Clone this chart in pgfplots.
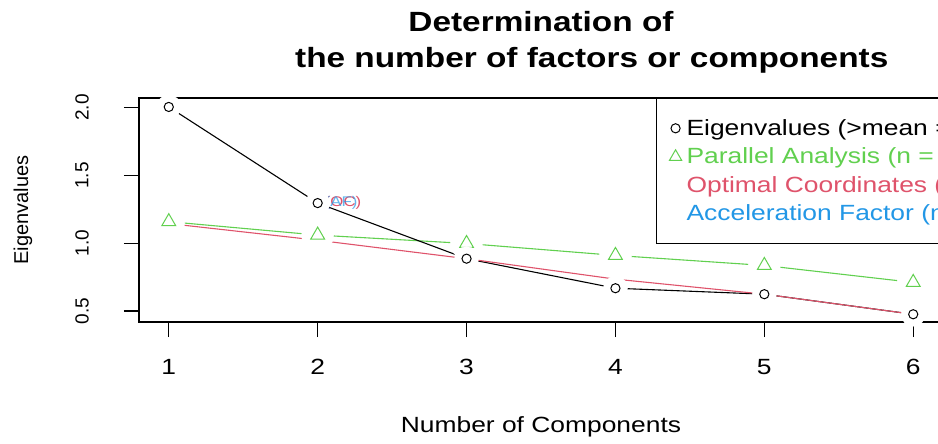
\documentclass[border=0pt]{standalone}
\usepackage{pgfplots}
\pgfplotsset{compat=1.18}
\usepackage{fontspec}
\setmainfont{Liberation Sans}[FakeStretch=1.2]
\newfontfamily\rotfont{Liberation Sans}
\definecolor{rgreen}{HTML}{61D04F}
\definecolor{rred}{HTML}{DF536B}
\definecolor{rblue}{HTML}{2297E6}
\pgfplotstableread{
x y
1 2.005
2 1.296
3 0.886
4 0.668
5 0.624
6 0.476
}\eigen
\pgfplotstableread{
x y
1 1.159
2 1.060
3 0.998
4 0.910
5 0.836
6 0.711
}\parallel
\pgfplotstableread{
x y
1 1.145
2 1.022
3 0.886
4 0.735
5 0.624
6 0.476
}\optimal
\begin{document}
\begin{tikzpicture}[x=1pt,y=1pt]
\useasboundingbox (0,0) rectangle (938,444);
\clip (0,0) rectangle (938,444);
\begin{axis}[
  at={(139pt,122pt)}, anchor=south west,
  scale only axis, width=804pt, height=224pt,
  xmin=0.8, xmax=6.2, ymin=0.419, ymax=2.071,
  xtick={1,2,3,4,5,6}, ytick={0.5,1,1.5,2},
  yticklabels={0.5,1.0,1.5,2.0},
  tick pos=left, tick align=outside,
  major tick length=15pt,
  axis line style={line width=1.2pt},
  every tick/.style={black, line width=1.2pt},
  axis on top,
  /pgf/number format/assume math mode=true,
  xticklabel style={anchor=center, yshift=-30pt, font=\fontsize{22}{24}\selectfont},
  yticklabel style={rotate=90, anchor=center, yshift=42pt, font=\rotfont\fontsize{19}{21}\selectfont},
  xlabel={Number of Components},
  xlabel style={at={(axis description cs:0.5,-0.469)}, anchor=center, font=\fontsize{22}{24}\selectfont},
  ylabel={Eigenvalues},
  ylabel style={at={(axis description cs:-0.1443,0.5)}, anchor=center, rotate=0, font=\rotfont\fontsize{20}{22}\selectfont},
  legend style={at={(rel axis cs:0.643,1)}, anchor=north west, draw=black, line width=1.2pt,
    font=\fontsize{22}{26}\selectfont, row sep=7pt, inner xsep=2pt, inner ysep=19pt},
  legend cell align=left,
  legend image code/.code={\path[draw=none, fill=none] (0pt,-4pt) rectangle (26pt,4pt); \draw[#1] plot coordinates {(17pt,0pt)};},
]
% parallel analysis
\addplot[rgreen, line width=1.1pt, forget plot] table[x=x,y=y] {\parallel};
\addplot[only marks, white, mark=*, mark size=16, mark options={fill=white, draw=white}, forget plot] table[x=x,y=y] {\parallel};
\addplot[only marks, mark=triangle, mark size=8, rgreen, line width=1pt, forget plot] table[x=x,y=y] {\parallel};
% eigenvalues
\addplot[black, line width=1.1pt, forget plot] table[x=x,y=y] {\eigen};
\addplot[only marks, white, mark=*, mark size=12, mark options={fill=white, draw=white}, forget plot] table[x=x,y=y] {\eigen};
\addplot[only marks, mark=o, mark size=4.6, black, line width=1pt, forget plot] table[x=x,y=y] {\eigen};
% optimal coordinates
\addplot[rred, line width=1.1pt, forget plot] table[x=x,y=y] {\optimal};
\node[anchor=west, inner sep=0pt, text=rred, font=\fontsize{14}{15}\selectfont] at (axis cs:2,1.30) {\hspace{7pt}(OC)};
\node[anchor=west, inner sep=0pt, text=rblue, opacity=0.7, font=\fontsize{14}{15}\selectfont] at (axis cs:2,1.30) {\hspace{7pt}(AF)};
% legend
\addlegendimage{only marks, mark=o, mark size=4.6, black, line width=1pt}
\addlegendentry{\textcolor{black}{Eigenvalues (>mean  = 2 )}}
\addlegendimage{only marks, mark=triangle, mark size=7, rgreen, line width=1pt}
\addlegendentry{\textcolor{rgreen}{Parallel Analysis (n = 2 )}}
\addlegendimage{draw=none, mark=none}
\addlegendentry{\textcolor{rred}{Optimal Coordinates (n = 2 )}}
\addlegendimage{draw=none, mark=none}
\addlegendentry{\textcolor{rblue}{Acceleration Factor (n = 1 )}}
\end{axis}
\node[anchor=base, inner sep=0pt, font=\bfseries\fontsize{27.8}{30}\selectfont] at (541,412) {Determination of};
\node[anchor=base west, inner sep=0pt, font=\bfseries\fontsize{27.8}{30}\selectfont] at (295,376) {the number of factors or components};
\end{tikzpicture}
\end{document}
